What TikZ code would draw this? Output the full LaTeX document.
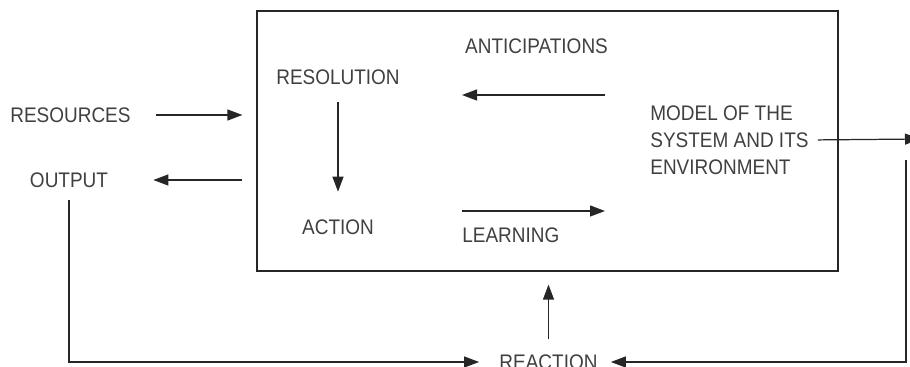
\documentclass[tikz,border=0pt]{standalone}
\usepackage{fontspec}
\setmainfont{Liberation Sans}[FakeStretch=0.9]
\usepackage{tikz}
\usetikzlibrary{arrows.meta,calc,positioning}

\begin{document}
\begin{tikzpicture}[]
	\tikzstyle{lbl} = [inner sep=0pt,text=black!75,font=\fontsize{12}{15.3}\selectfont]
	\tikzstyle{arr} = [-{Triangle[length=0.3cm,width=0.22cm]},line width=0.7pt,draw=black!85]
	\tikzstyle{frame} = [draw=black!85,line width=0.7pt,minimum width=11.62cm,minimum height=5.2cm]
	\useasboundingbox (0,0) rectangle (18.2,-7.34);
	% System box
	\node[frame] (sys) at (10.95,-2.82) {};
	% Inputs and outputs
	\node[lbl,anchor=west] (res) at (0.2,-2.3) {RESOURCES};
	\node[lbl] (out) at (1.38,-3.6) {OUTPUT};
	\draw[arr,shorten <=0.5cm,shorten >=0.28cm] (res.east) -- (res.east -| sys.west);
	\draw[arr,shorten <=0.28cm,shorten >=0.9cm] (out.east -| sys.west) -- (out.east);
	% Inside the box
	\node[lbl] (resol) at (6.76,-1.54) {RESOLUTION};
	\node[lbl] (act) at (6.76,-4.55) {ACTION};
	\draw[arr,shorten <=0.35cm,shorten >=0.56cm] (resol.south) -- (act.north);
	\node[lbl] (ant) at (10.73,-0.92) {ANTICIPATIONS};
	\coordinate (ant_a) at (12.1,-1.9);
	\coordinate (ant_b) at (9.24,-1.9);
	\draw[arr] (ant_a) -- (ant_b);
	\node[lbl,anchor=west] (lrn) at (9.24,-4.7) {LEARNING};
	\coordinate (lrn_a) at (9.24,-4.22);
	\coordinate (lrn_b) at (12.1,-4.22);
	\draw[arr] (lrn_a) -- (lrn_b);
	\node[lbl,anchor=west,align=left] (model) at (13.0,-2.8) {MODEL OF THE\\SYSTEM AND ITS\\ENVIRONMENT};
	% Feedback loop
	\node[lbl] (reac) at (10.97,-7.24) {REACTION};
	\coordinate (mod_r) at (18.4,-2.78);
	\coordinate (loop_r) at (18.12,-3.2);
	\draw[arr,shorten <=0.18cm] (model.east) -- (mod_r);
	\draw[arr,shorten >=0.26cm] (loop_r) |- (reac.east);
	\draw[arr,shorten <=0.25cm,shorten >=0.4cm] (out.south) |- (reac.west);
	\draw[arr,shorten <=0.3cm,shorten >=0.26cm] (reac.north) -- (reac.north |- sys.south);
\end{tikzpicture}
\end{document}
